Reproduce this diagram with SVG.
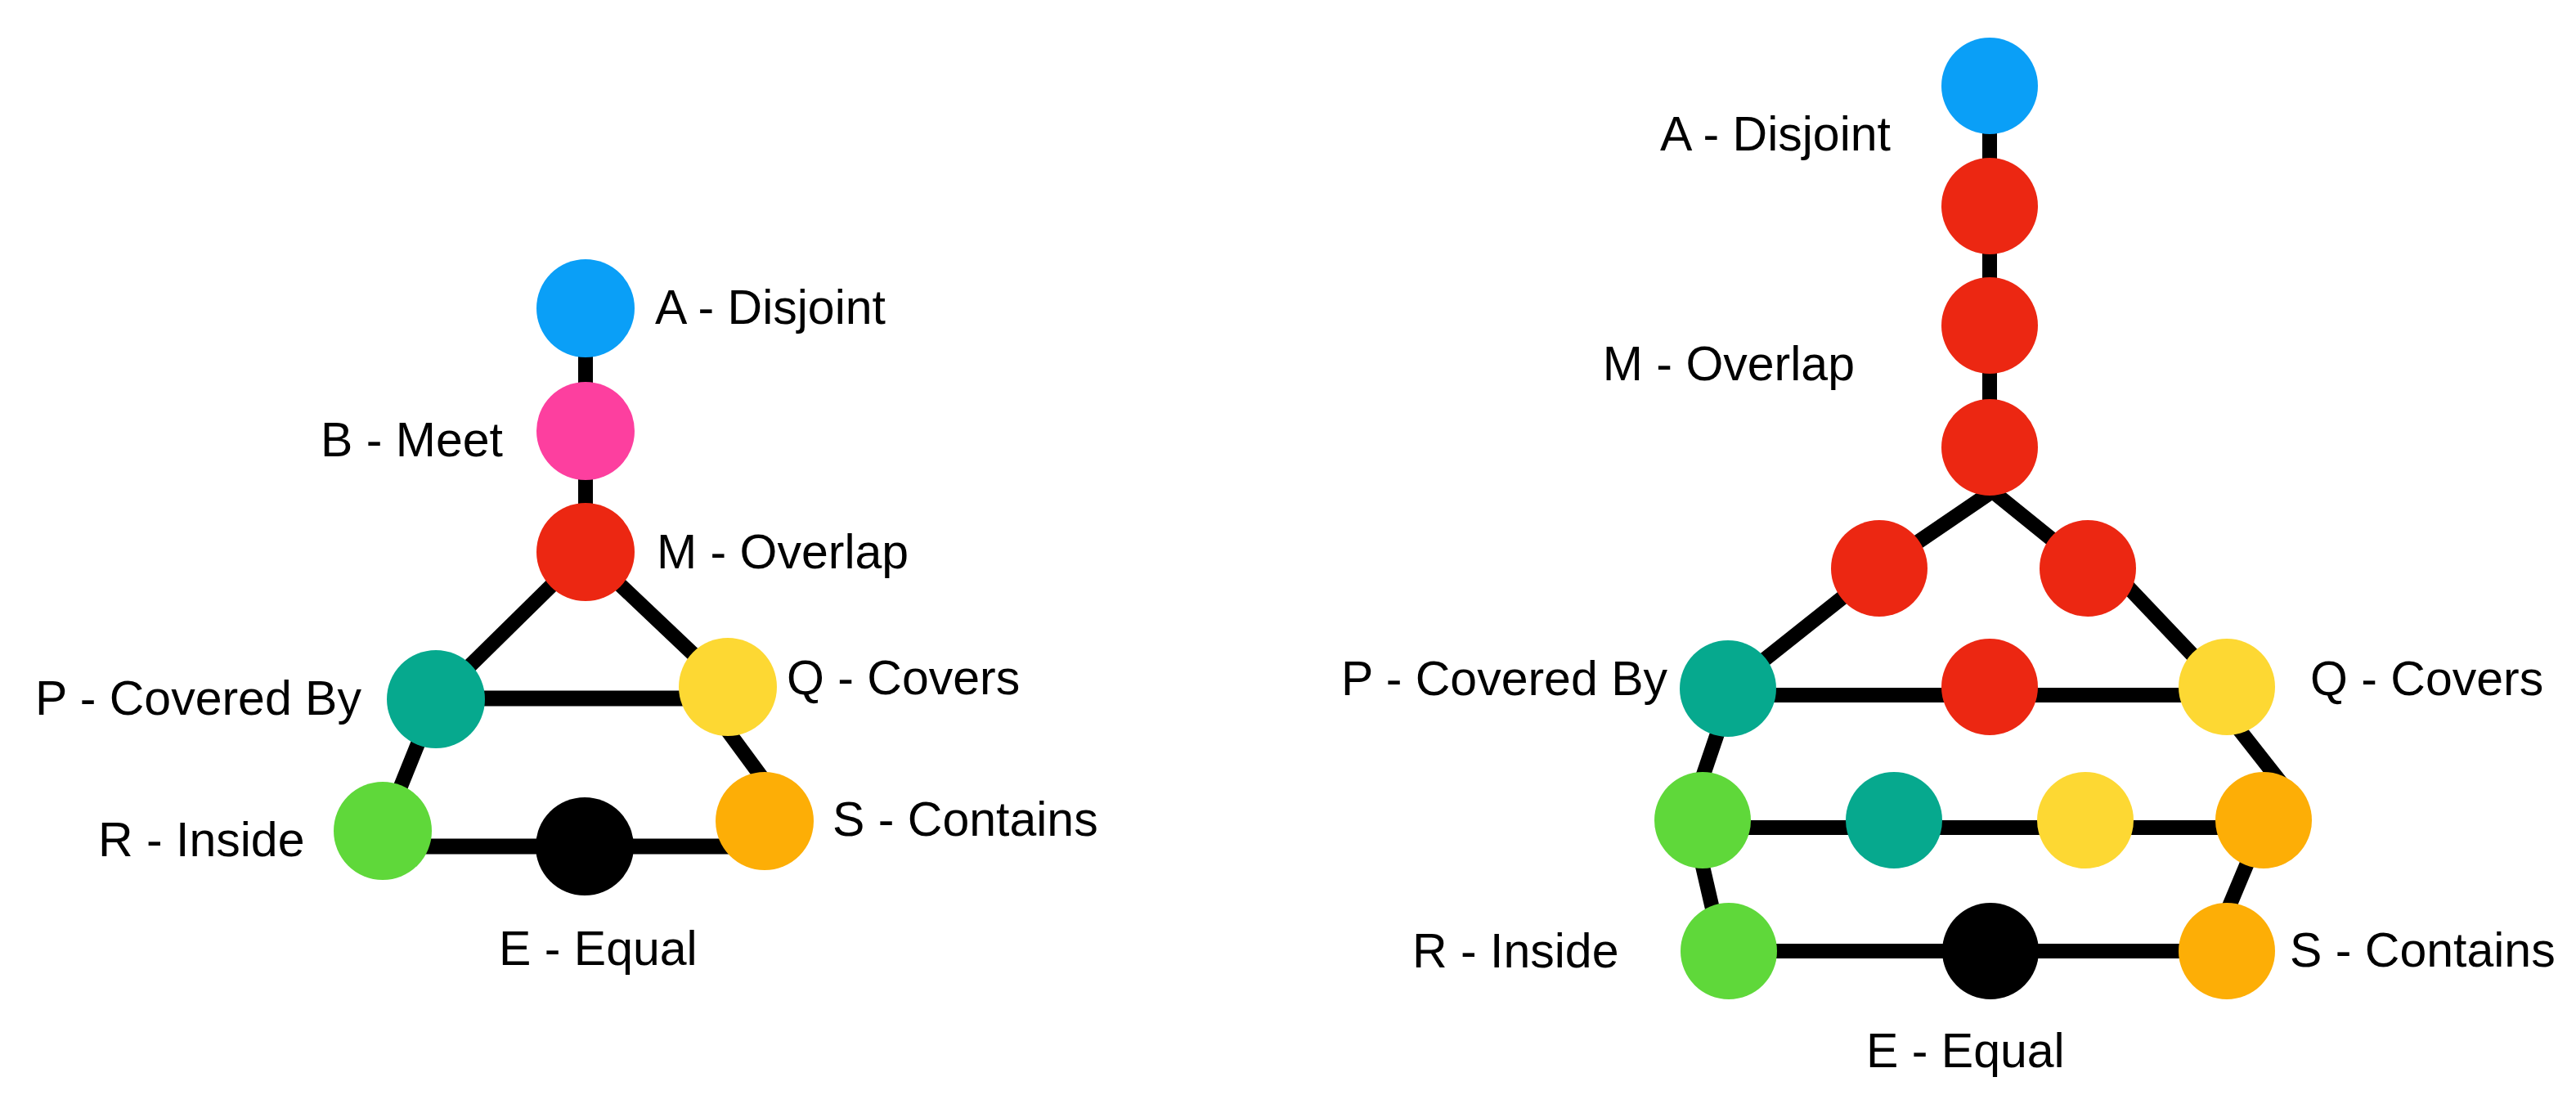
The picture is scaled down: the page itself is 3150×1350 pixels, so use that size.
<svg xmlns="http://www.w3.org/2000/svg" width="3150" height="1350" viewBox="0 0 3150 1350">
<style>
.edge{stroke:#000;stroke-width:18;fill:none}
.n{stroke:none}
.lbl{font-family:"Liberation Sans",Arial,Helvetica,sans-serif;font-size:59px;fill:#000}
.end{text-anchor:end}
.blue{fill:#0a9ff7}
.pink{fill:#fd3f9f}
.red{fill:#ec2712}
.teal{fill:#06a98e}
.yellow{fill:#fdd833}
.green{fill:#5fd83a}
.orange{fill:#fdae06}
.black{fill:#000}
</style>
<rect width="3150" height="1350" fill="#fff"/>
<g id="connectors">
  <!-- left diagram -->
  <line class="edge" x1="716" y1="377" x2="716" y2="527"/>
  <line class="edge" x1="716" y1="527" x2="716" y2="675"/>
  <line class="edge" x1="716" y1="675" x2="533" y2="855"/>
  <line class="edge" x1="716" y1="675" x2="890" y2="840"/>
  <line class="edge" x1="533" y1="854" x2="890" y2="854" style="stroke-width:19"/>
  <line class="edge" x1="533" y1="855" x2="468" y2="1016"/>
  <line class="edge" x1="854" y1="845" x2="968" y2="1000"/>
  <line class="edge" x1="468" y1="1035" x2="935" y2="1035" style="stroke-width:19"/>
  <!-- right diagram -->
  <line class="edge" x1="2433" y1="105" x2="2433" y2="547"/>
  <line class="edge" x1="2433" y1="603" x2="2298" y2="695"/>
  <line class="edge" x1="2433" y1="598" x2="2553" y2="695"/>
  <line class="edge" x1="2298" y1="695" x2="2113" y2="842"/>
  <line class="edge" x1="2553" y1="666" x2="2723" y2="845"/>
  <line class="edge" x1="2113" y1="850" x2="2723" y2="850"/>
  <line class="edge" x1="2116" y1="850" x2="2064" y2="1003"/>
  <line class="edge" x1="2705" y1="850" x2="2815" y2="990"/>
  <line class="edge" x1="2082" y1="1012" x2="2768" y2="1012"/>
  <line class="edge" x1="2069" y1="1003" x2="2106" y2="1163"/>
  <line class="edge" x1="2770" y1="1003" x2="2703" y2="1163"/>
  <line class="edge" x1="2114" y1="1163" x2="2723" y2="1163"/>
</g>
<!-- left diagram nodes -->
<g id="L-A"><circle class="n blue" cx="716" cy="377" r="60"/><text class="lbl" x="801" y="396">A - Disjoint</text></g>
<g id="L-B"><circle class="n pink" cx="716" cy="527" r="60"/><text class="lbl end" x="615" y="558">B - Meet</text></g>
<g id="L-M"><circle class="n red" cx="716" cy="675" r="60"/><text class="lbl" x="803" y="695">M - Overlap</text></g>
<g id="L-P"><circle class="n teal" cx="533" cy="855" r="60"/><text class="lbl" x="43" y="874">P - Covered By</text></g>
<g id="L-Q"><circle class="n yellow" cx="890" cy="840" r="60"/><text class="lbl" x="962" y="849">Q - Covers</text></g>
<g id="L-R"><circle class="n green" cx="468" cy="1016" r="60"/><text class="lbl" x="120" y="1047">R - Inside</text></g>
<g id="L-E"><circle class="n black" cx="715" cy="1035" r="60"/><text class="lbl" x="610" y="1180">E - Equal</text></g>
<g id="L-S"><circle class="n orange" cx="935" cy="1004" r="60"/><text class="lbl" x="1018" y="1022">S - Contains</text></g>
<!-- right diagram nodes -->
<g id="R-A"><circle class="n blue" cx="2433" cy="105" r="59"/><text class="lbl end" x="2312" y="184">A - Disjoint</text></g>
<g id="R-M1"><circle class="n red" cx="2433" cy="252" r="59"/></g>
<g id="R-M2"><circle class="n red" cx="2433" cy="398" r="59"/><text class="lbl end" x="2268" y="465">M - Overlap</text></g>
<g id="R-M3"><circle class="n red" cx="2433" cy="547" r="59"/></g>
<g id="R-ML"><circle class="n red" cx="2298" cy="695" r="59"/></g>
<g id="R-MR"><circle class="n red" cx="2553" cy="695" r="59"/></g>
<g id="R-P"><circle class="n teal" cx="2113" cy="842" r="59"/><text class="lbl end" x="2039" y="850">P - Covered By</text></g>
<g id="R-MM"><circle class="n red" cx="2433" cy="840" r="59"/></g>
<g id="R-Q"><circle class="n yellow" cx="2723" cy="840" r="59"/><text class="lbl" x="2825" y="850">Q - Covers</text></g>
<g id="R-R2"><circle class="n green" cx="2082" cy="1003" r="59"/></g>
<g id="R-P2"><circle class="n teal" cx="2316" cy="1003" r="59"/></g>
<g id="R-Q2"><circle class="n yellow" cx="2550" cy="1003" r="59"/></g>
<g id="R-S2"><circle class="n orange" cx="2768" cy="1003" r="59"/></g>
<g id="R-R"><circle class="n green" cx="2114" cy="1163" r="59"/><text class="lbl" x="1727" y="1183">R - Inside</text></g>
<g id="R-E"><circle class="n black" cx="2434" cy="1163" r="59"/><text class="lbl" x="2282" y="1305">E - Equal</text></g>
<g id="R-S"><circle class="n orange" cx="2723" cy="1163" r="59"/><text class="lbl" x="2800" y="1182">S - Contains</text></g>
</svg>
